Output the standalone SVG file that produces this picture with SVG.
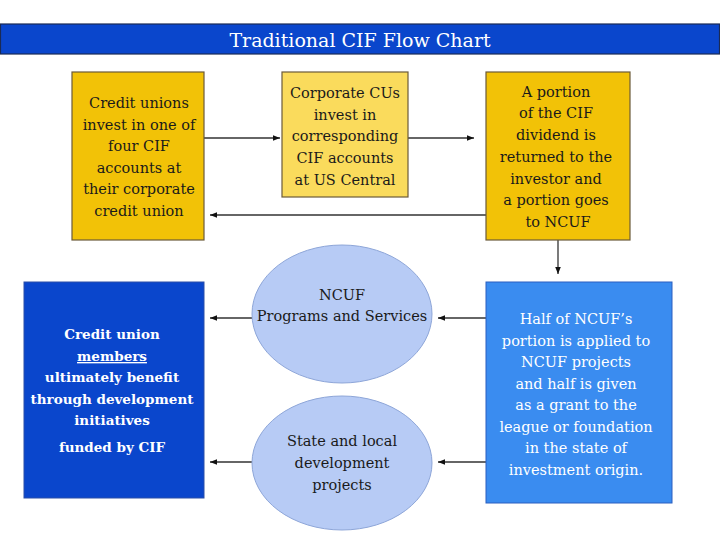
<svg xmlns="http://www.w3.org/2000/svg" width="720" height="540" viewBox="0 0 720 540">
<style>
.t{font-family:'DejaVu Serif','Liberation Serif',serif;font-size:14.5px;text-anchor:middle;fill:#1a1a1a}
.w{fill:#ffffff}
.b{font-weight:bold}
.c{stroke:#333333;stroke-width:1.3;fill:none;marker-end:url(#ah)}
.box{stroke:#6b5a3a;stroke-width:1.2}
</style>
<defs>
<marker id="ah" viewBox="0 0 10 10" refX="10" refY="5" markerWidth="7" markerHeight="7" markerUnits="userSpaceOnUse" orient="auto">
<path d="M0,1 L10,5 L0,9 z" fill="#111111"/>
</marker>
</defs>
<rect width="720" height="540" fill="#ffffff"/>
<g id="title">
<rect x="0.5" y="24" width="719" height="30" fill="#0a46cc" stroke="#1a2a55" stroke-width="1.2"/>
<text x="360" y="47" class="t w" style="font-size:19px">Traditional CIF Flow Chart</text>
</g>
<g id="connectors">
<line x1="204" y1="138" x2="280" y2="138" class="c"/>
<line x1="408" y1="138" x2="474" y2="138" class="c"/>
<line x1="486" y1="215" x2="210" y2="215" class="c"/>
<line x1="558" y1="240" x2="558" y2="274" class="c"/>
<line x1="486" y1="318" x2="438" y2="318" class="c"/>
<line x1="486" y1="462" x2="438" y2="462" class="c"/>
<line x1="252" y1="318" x2="210" y2="318" class="c"/>
<line x1="252" y1="462" x2="210" y2="462" class="c"/>
</g>
<g id="n1">
<rect x="72" y="72" width="132" height="168" fill="#f2c207" class="box"/>
<text class="t" x="139"><tspan x="139" y="108">Credit unions</tspan><tspan x="139" y="130">invest in one of</tspan><tspan x="139" y="151">four CIF</tspan><tspan x="139" y="173">accounts at</tspan><tspan x="139" y="194">their corporate</tspan><tspan x="139" y="216">credit union</tspan></text>
</g>
<g id="n2">
<rect x="282" y="72" width="126" height="125" fill="#fadb5c" class="box"/>
<text class="t" x="345"><tspan x="345" y="98">Corporate CUs</tspan><tspan x="345" y="120">invest in</tspan><tspan x="345" y="141">corresponding</tspan><tspan x="345" y="163">CIF accounts</tspan><tspan x="345" y="185">at US Central</tspan></text>
</g>
<g id="n3">
<rect x="486" y="72" width="144" height="168" fill="#f2c207" class="box"/>
<text class="t" x="558"><tspan x="556" y="97">A portion</tspan><tspan x="556" y="118">of the CIF</tspan><tspan x="556" y="140">dividend is</tspan><tspan x="556" y="162">returned to the</tspan><tspan x="556" y="184">investor and</tspan><tspan x="556" y="205">a portion goes</tspan><tspan x="558" y="227">to NCUF</tspan></text>
</g>
<g id="n4">
<rect x="24" y="282" width="180" height="216" fill="#0a46cc" stroke="#2a4fa8" stroke-width="1"/>
<text class="t w b" x="112" style="font-size:13.5px"><tspan x="112" y="339">Credit union</tspan><tspan x="112" y="361" text-decoration="underline">members</tspan><tspan x="112" y="382">ultimately benefit</tspan><tspan x="112" y="404">through development</tspan><tspan x="112" y="425">initiatives</tspan><tspan x="112" y="452">funded by CIF</tspan></text>
</g>
<g id="n5">
<ellipse cx="342" cy="314" rx="90" ry="69" fill="#b7cbf5" stroke="#8ea6d8" stroke-width="1"/>
<text class="t" x="342"><tspan x="342" y="300">NCUF</tspan><tspan x="342" y="321">Programs and Services</tspan></text>
</g>
<g id="n6">
<ellipse cx="342" cy="463" rx="90" ry="67" fill="#b7cbf5" stroke="#8ea6d8" stroke-width="1"/>
<text class="t" x="342"><tspan x="342" y="446">State and local</tspan><tspan x="342" y="468">development</tspan><tspan x="342" y="490">projects</tspan></text>
</g>
<g id="n7">
<rect x="486" y="282" width="186" height="221" fill="#3a8cf0" stroke="#2a5fc0" stroke-width="1"/>
<text class="t w" x="577"><tspan x="576" y="324">Half of NCUF’s</tspan><tspan x="576" y="346">portion is applied to</tspan><tspan x="576" y="367">NCUF projects</tspan><tspan x="576" y="389">and half is given</tspan><tspan x="576" y="410">as a grant to the</tspan><tspan x="576" y="432">league or foundation</tspan><tspan x="576" y="453">in the state of</tspan><tspan x="576" y="475">investment origin.</tspan></text>
</g>
</svg>
